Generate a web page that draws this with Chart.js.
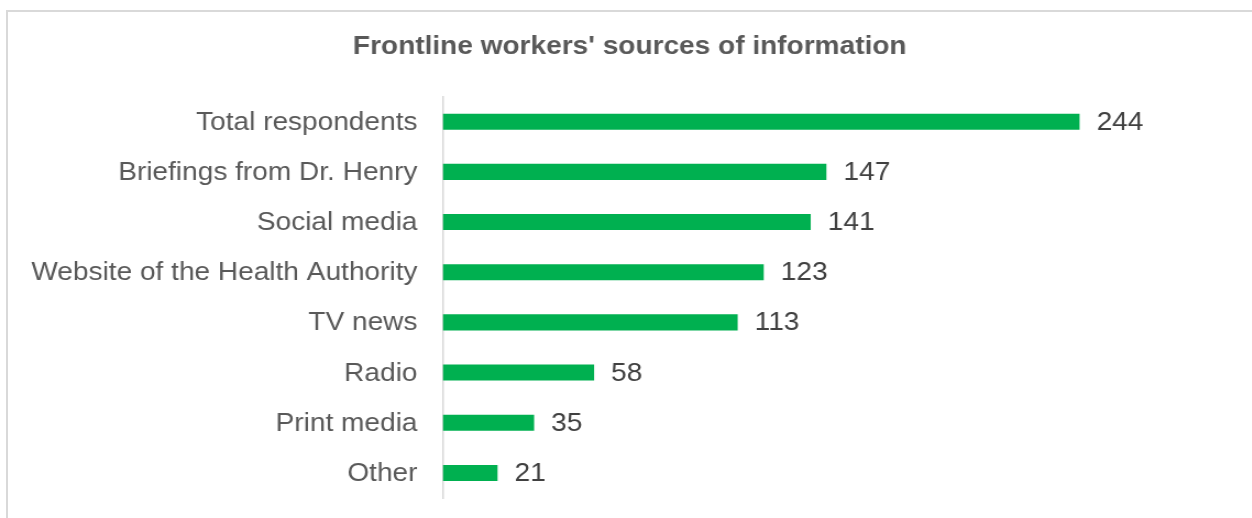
<!DOCTYPE html>
<html lang="en">
<head>
  <meta charset="UTF-8" />
  <title>Frontline workers' sources of information</title>
  <script src="https://cdn.jsdelivr.net/npm/chart.js@4/dist/chart.umd.min.js"></script>
  <style>
    body {
      margin: 0;
      background: #ffffff;
      width: 1252px;
      height: 518px;
      overflow: hidden;
      position: relative;
    }
    .frame {
      position: absolute;
      left: 6px;
      top: 10px;
      width: 1300px;
      height: 600px;
      border: 2px solid #d9d9d9;
      box-sizing: border-box;
    }
    .chart-wrap {
      position: absolute;
      left: 0;
      top: 0;
      width: 1138px;
      height: 518px;
      /* the chart is drawn a little wide, like the original export */
      transform: scaleX(1.1);
      transform-origin: 0 0;
    }
  </style>
</head>
<body>
  <div class="frame"></div>
  <div class="chart-wrap">
    <canvas id="sourcesChart" width="1138" height="518"></canvas>
  </div>

  <script>
    const categories = [
      "Total respondents",
      "Briefings from Dr. Henry",
      "Social media",
      "Website of the Health Authority",
      "TV news",
      "Radio",
      "Print media",
      "Other"
    ];
    const counts = [244, 147, 141, 123, 113, 58, 35, 21];

    const FONT = "'Liberation Sans', Arial, sans-serif";

    // writes each bar's count just past its end
    const valueLabels = {
      id: "valueLabels",
      afterDatasetsDraw(chart) {
        const ctx = chart.ctx;
        const meta = chart.getDatasetMeta(0);
        ctx.save();
        ctx.font = "25.5px " + FONT;
        ctx.fillStyle = "#404040";
        ctx.textAlign = "left";
        ctx.textBaseline = "middle";
        meta.data.forEach((bar, i) => {
          ctx.fillText(String(counts[i]), bar.x + 15.5, bar.y + 1);
        });
        ctx.restore();
      }
    };

    const ctx = document.getElementById("sourcesChart").getContext("2d");
    new Chart(ctx, {
      type: "bar",
      data: {
        labels: categories,
        datasets: [{
          data: counts,
          backgroundColor: "#00b050",
          borderWidth: 0,
          barPercentage: 0.8,
          categoryPercentage: 0.4
        }]
      },
      options: {
        indexAxis: "y",
        responsive: false,
        maintainAspectRatio: false,
        animation: false,
        layout: {
          padding: { left: 7, right: 0, top: 0, bottom: 20 }
        },
        plugins: {
          legend: { display: false },
          tooltip: { enabled: false },
          title: {
            display: true,
            text: "Frontline workers' sources of information",
            color: "#595959",
            font: { family: FONT, size: 25.5, weight: "bold" },
            padding: { top: 32, bottom: 34 }
          }
        },
        scales: {
          x: {
            display: false,
            min: 0,
            max: 310
          },
          y: {
            afterFit(scale) {
              // fixed label column; no extra room above/below the band
              scale.width = 395.5;
              scale.paddingTop = 0;
              scale.paddingBottom = 0;
            },
            grid: { display: false, drawTicks: false },
            border: { display: true, color: "#d9d9d9", width: 1.5 },
            ticks: {
              color: "#595959",
              padding: 23,
              labelOffset: 1,
              font: { family: FONT, size: 25.5 }
            }
          }
        }
      },
      plugins: [valueLabels]
    });
  </script>
</body>
</html>
